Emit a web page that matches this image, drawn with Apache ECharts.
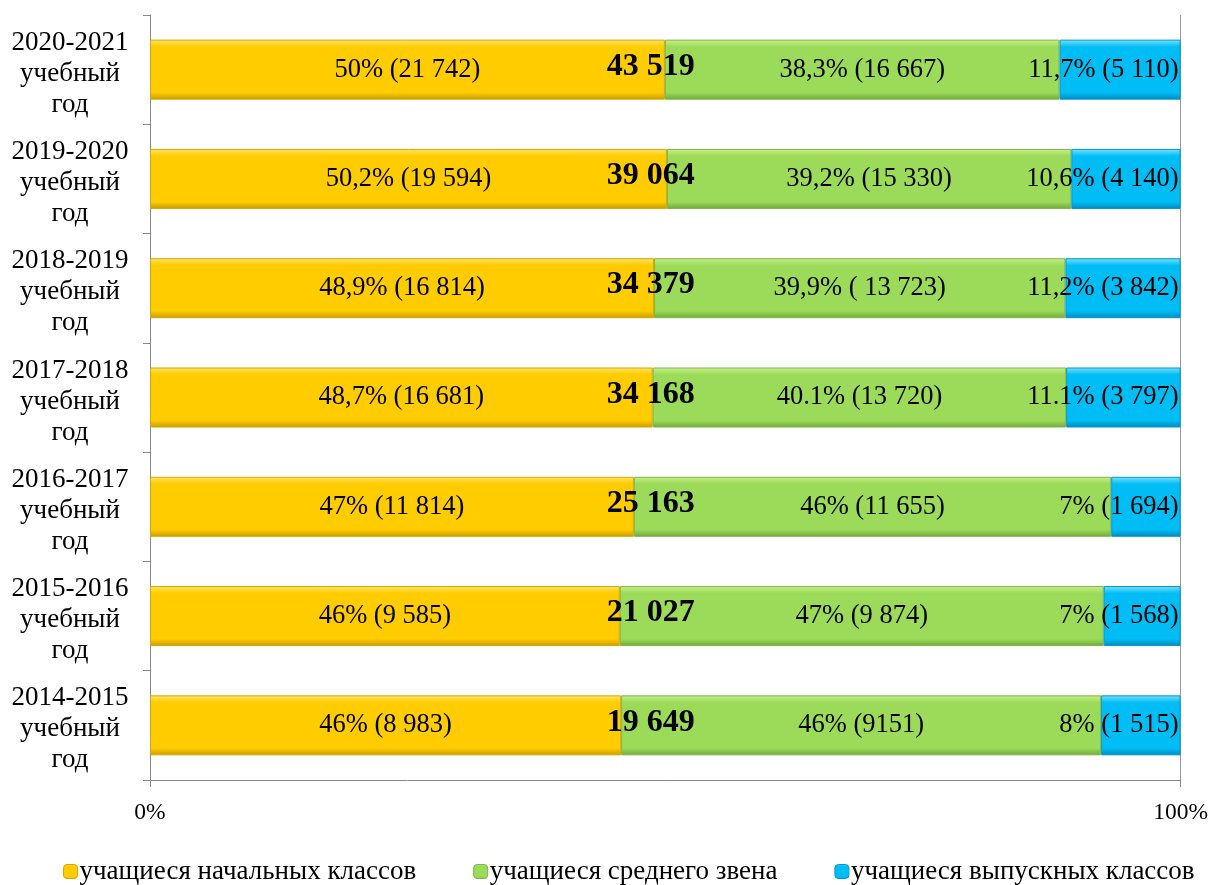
<!DOCTYPE html>
<html><head><meta charset="utf-8">
<script src="https://cdn.jsdelivr.net/npm/echarts@6/dist/echarts.min.js"></script>
<style>html,body{margin:0;padding:0;background:#fff}#c{width:1211px;height:885px}</style>
</head><body><div id="c"></div>
<script>
const years = ['2014-2015','2015-2016','2016-2017','2017-2018','2018-2019','2019-2020','2020-2021'];
const seriesNames = ['учащиеся начальных классов','учащиеся среднего звена','учащиеся выпускных классов'];
const primaryCounts = [8983, 9585, 11814, 16681, 16814, 19594, 21742];
const middleCounts  = [9151, 9874, 11655, 13720, 13723, 15330, 16667];
const seniorCounts  = [1515, 1568, 1694, 3797, 3842, 4140, 5110];
const totalLabels   = ['19 649','21 027','25 163','34 168','34 379','39 064','43 519'];
const primaryLabels = ['46% (8 983)','46% (9 585)','47% (11 814)','48,7% (16 681)','48,9% (16 814)','50,2% (19 594)','50% (21 742)'];
const middleLabels  = ['46% (9151)','47% (9 874)','46% (11 655)','40.1% (13 720)','39,9% ( 13 723)','39,2% (15 330)','38,3% (16 667)'];
const seniorLabels  = ['8% (1 515)','7% (1 568)','7% (1 694)','11.1% (3 797)','11,2% (3 842)','10,6% (4 140)','11,7% (5 110)'];
const xTickLabels = {0:'0%',100:'100%'};

const FONT = '"Liberation Serif","Times New Roman",serif';
const sums = years.map((_, i) => primaryCounts[i] + middleCounts[i] + seniorCounts[i]);
const pct = arr => arr.map((v, i) => v / sums[i] * 100);

function grad(light, base, dark) {
  return new echarts.graphic.LinearGradient(0, 0, 0, 1, [
    {offset: 0, color: light}, {offset: 0.12, color: base},
    {offset: 0.88, color: base}, {offset: 1, color: dark}
  ]);
}
const styles = [
  {color: grad('#FFE46A', '#FFCC00', '#C99A00'), border: '#D4A800', legend: grad('#FFE46A', '#FFCC00', '#C99A00')},
  {color: grad('#C8F08A', '#9CDB5A', '#6FA83A'), border: '#7FB548', legend: grad('#C8F08A', '#9CDB5A', '#6FA83A')},
  {color: grad('#7FE0FF', '#00BEF5', '#0088BB'), border: '#0098CC', legend: grad('#7FE0FF', '#00BEF5', '#0088BB')}
];
const counts = [primaryCounts, middleCounts, seniorCounts];
const labels = [primaryLabels, middleLabels, seniorLabels];

const barSeries = counts.map((arr, s) => ({
  name: seriesNames[s],
  type: 'bar',
  stack: 'all',
  barWidth: 60,
  data: pct(arr),
  itemStyle: {color: styles[s].color, borderColor: styles[s].border, borderWidth: 1},
  label: {
    show: true,
    position: s === 2 ? 'insideRight' : 'inside',
    distance: 2,
    offset: [0, 2],
    formatter: p => labels[s][p.dataIndex],
    fontFamily: FONT, fontSize: 26.5, color: '#000', textBorderWidth: 0
  },
  labelLayout: {hideOverlap: false},
  emphasis: {disabled: true}
}));

const totalSeries = {
  type: 'scatter',
  symbolSize: 0,
  z: 10,
  itemStyle: {opacity: 1},
  data: years.map(y => [48.6, y]),
  label: {
    show: true, position: 'inside',
    offset: [0, -3],
    opacity: 1,
    formatter: p => totalLabels[p.dataIndex],
    fontFamily: FONT, fontSize: 32, fontWeight: 'bold', color: '#000',
    textBorderWidth: 0, textBorderColor: 'transparent'
  },
  emphasis: {disabled: true},
  silent: true
};

const chart = echarts.init(document.getElementById('c'));
chart.setOption({
  animation: false,
  backgroundColor: '#fff',
  grid: {left: 150, right: 29, top: 15, bottom: 105, containLabel: false},
  legend: {
    top: 853, left: 58,
    itemGap: 57, itemWidth: 14, itemHeight: 14,
    data: seriesNames.map((n, s) => ({name: n, itemStyle: {color: styles[s].legend, borderColor: styles[s].border, borderWidth: 1}})),
    textStyle: {fontFamily: FONT, fontSize: 27, color: '#000', padding: [0,0,0,-3]}
  },
  xAxis: {
    type: 'value', min: 0, max: 100, interval: 100,
    axisLine: {show: true, lineStyle: {color: '#888'}},
    axisTick: {show: true, length: 7, lineStyle: {color: '#888'}},
    splitLine: {show: true, lineStyle: {color: '#999'}},
    axisLabel: {formatter: v => xTickLabels[v], margin: 21, fontFamily: FONT, fontSize: 23.5, color: '#000'}
  },
  yAxis: {
    type: 'category', data: years,
    axisLine: {show: true, lineStyle: {color: '#888'}},
    axisTick: {show: true, length: 7, lineStyle: {color: '#888'}},
    axisLabel: {
      formatter: v => '{s| }\n{t|' + v + '}\n{t|учебный}\n{t|год}',
      align: 'center', margin: 80,
      rich: {
        s: {fontSize: 1, lineHeight: 8},
        t: {fontFamily: FONT, fontSize: 27, color: '#000', lineHeight: 31, align: 'center'}
      }
    }
  },
  series: [...barSeries, totalSeries]
});
</script></body></html>
